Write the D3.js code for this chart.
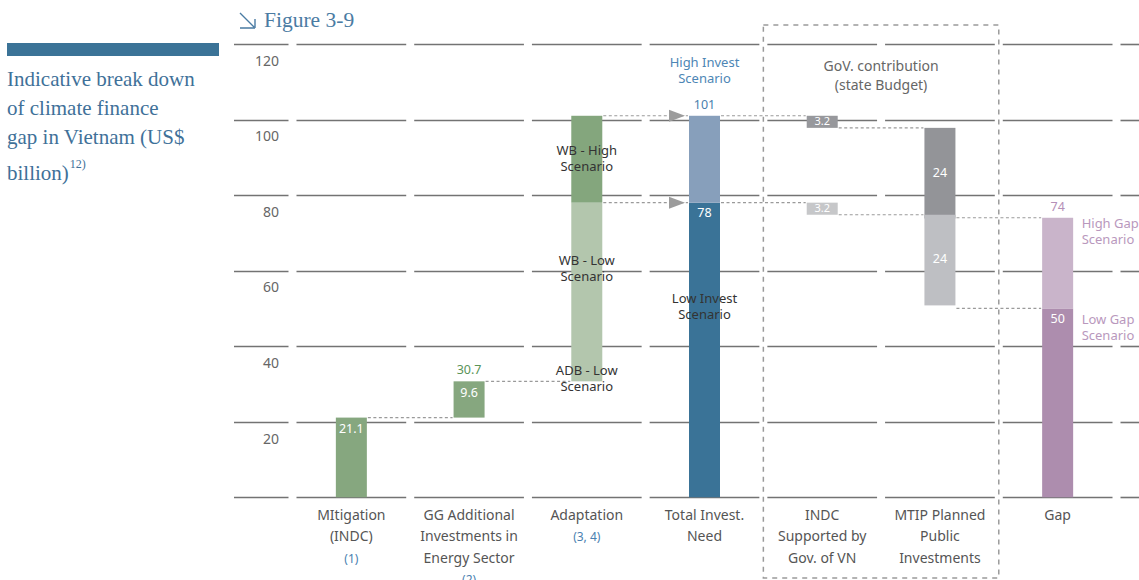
<!DOCTYPE html>
<html>
<head>
<meta charset="utf-8">
<script src="https://cdn.jsdelivr.net/npm/d3@7"></script>
<style>
  body { margin: 0; background: #fff; }
  svg { display: block; font-family: "Noto Sans", sans-serif; }
</style>
</head>
<body>
<svg id="chart" width="1139" height="580"></svg>
<script>
// ---- data (US$ billion) ----
const categories = ["Mitigation", "GG", "Adaptation", "Total", "INDC", "MTIP", "Gap"];
const categoryLines = [
  ["MItigation", "(INDC)"],
  ["GG Additional", "Investments in", "Energy Sector"],
  ["Adaptation"],
  ["Total Invest.", "Need"],
  ["INDC", "Supported by", "Gov. of VN"],
  ["MTIP Planned", "Public", "Investments"],
  ["Gap"]
];
const categoryNotes = ["(1)", "(2)", "(3, 4)", "", "", "", ""];

const yTicks = [20, 40, 60, 80, 100, 120];
const yGrid = [0, 20, 40, 60, 80, 100, 120];

// floating segments: category, start, end
const segCategory = ["Mitigation", "GG", "Adaptation", "Adaptation", "Total", "Total",
                     "INDC", "INDC", "MTIP", "MTIP", "Gap", "Gap"];
const segStart = [0, 21.1, 30.7, 78, 0, 78, 97.8, 74.8, 73.8, 50.8, 0, 50];
const segEnd   = [21.1, 30.7, 78, 101, 78, 101, 101, 78, 97.8, 74.8, 50, 74];

// dotted links between columns: level, from, to
const linkLevel = [21.1, 30.7, 101, 78, 101, 78, 97.8, 74.8, 74, 50];
const linkFrom  = ["Mitigation", "GG", "Adaptation", "Adaptation", "Total", "Total", "INDC", "INDC", "MTIP", "MTIP"];
const linkTo    = ["GG", "Adaptation", "Total", "Total", "INDC", "INDC", "MTIP", "MTIP", "Gap", "Gap"];

// ---- drawing ----
const svg = d3.select("#chart");
const fmt = d3.format(".1~f");

const segFill = ["#86a77f", "#86a77f", "#b3c6ad", "#84a67d", "#3a7397", "#879fbb",
                 "#97989c", "#c6c7c9", "#939498", "#bebfc3", "#ad8dae", "#c9b4ca"];

const x = d3.scaleBand().domain(categories).range([292.5, 1116.5])
  .paddingInner(0.068).paddingOuter(0.034);
const y = d3.scaleLinear().domain([0, 120]).range([497.3, 44]);
const bw = x.bandwidth();
const gap = x.step() - bw;
const barW = 31;
const barL = c => x(c) + bw / 2 - barW / 2;
const barR = c => x(c) + bw / 2 + barW / 2;
const cx = c => x(c) + bw / 2;

// left heading
svg.append("rect").attr("x", 7).attr("y", 43).attr("width", 212).attr("height", 13)
  .attr("fill", "#3b7397");
const heading = svg.append("text")
  .attr("font-family", "'Liberation Serif', serif").attr("font-size", 21)
  .attr("fill", "#3f7199");
["Indicative break down", "of climate finance", "gap in Vietnam (US$"].forEach((t, i) => {
  heading.append("tspan").attr("x", 7).attr("y", 86 + i * 29).text(t);
});
heading.append("tspan").attr("x", 7).attr("y", 180).text("billion)");
heading.append("tspan").attr("dx", 1).attr("dy", -12).attr("font-size", 12).text("12)");

// figure number
svg.append("path").attr("d", "M240,13 L254,27 M240,28 H255 M255,28 V19")
  .attr("fill", "none").attr("stroke", "#4a7ba3").attr("stroke-width", 1.4);
svg.append("text").attr("x", 264).attr("y", 27)
  .attr("font-family", "'Liberation Serif', serif").attr("font-size", 21.5)
  .attr("fill", "#4a7ba3").text("Figure 3-9");

// segmented grid lines
const gridG = svg.append("g").attr("stroke", "#737373").attr("stroke-width", 1.6);
yGrid.forEach(v => {
  const yy = Math.round(y(v)) + 0.5;
  gridG.append("line").attr("x1", 234).attr("x2", x(categories[0]) - gap).attr("y1", yy).attr("y2", yy);
  categories.forEach(c => {
    gridG.append("line").attr("x1", x(c)).attr("x2", x(c) + bw).attr("y1", yy).attr("y2", yy);
  });
  const last = categories[categories.length - 1];
  gridG.append("line").attr("x1", x(last) + bw + gap).attr("x2", 1139).attr("y1", yy).attr("y2", yy);
});

// tick labels (set just under each grid line)
svg.append("g").selectAll("text").data(yTicks).join("text")
  .attr("x", 279).attr("y", d => y(d) + 18)
  .attr("text-anchor", "end").attr("dominant-baseline", "middle")
  .attr("font-size", 14).attr("fill", "#666").text(d => d);

// dashed frame around government contribution columns
const boxL = x("Total") + bw + gap / 2;
const boxR = x("MTIP") + bw + gap / 2;
svg.append("rect").attr("x", boxL).attr("y", 25).attr("width", boxR - boxL).attr("height", 553)
  .attr("fill", "none").attr("stroke", "#9a9a9a").attr("stroke-width", 1.5)
  .attr("stroke-dasharray", "5,5");

// dotted links
svg.append("g").selectAll("line").data(linkLevel).join("line")
  .attr("x1", (d, i) => barR(linkFrom[i]) + 1)
  .attr("x2", (d, i) => barL(linkTo[i]) - 1)
  .attr("y1", d => y(d)).attr("y2", d => y(d))
  .attr("stroke", "#9a9a9a").attr("stroke-width", 1.2).attr("stroke-dasharray", "3,2.5");

// arrow heads into the total column
[101, 78].forEach(v => {
  const tip = barL("Total") - 4;
  const yy = y(v);
  svg.append("path")
    .attr("d", `M${tip - 16},${yy - 6} L${tip},${yy} L${tip - 16},${yy + 6} Z`)
    .attr("fill", "#9c9c9c");
});

// bars
svg.append("g").selectAll("rect").data(segCategory).join("rect")
  .attr("x", d => barL(d)).attr("width", barW)
  .attr("y", (d, i) => y(segEnd[i]))
  .attr("height", (d, i) => y(segStart[i]) - y(segEnd[i]))
  .attr("fill", (d, i) => segFill[i]);

// value labels
const segTop = i => y(segEnd[i]);
const segMid = i => (y(segEnd[i]) + y(segStart[i])) / 2;
const size = i => fmt(segEnd[i] - segStart[i]);
const valueLabels = [
  { i: 0, text: fmt(segEnd[0]), yy: segTop(0) + 12, fill: "#fff", fs: 12.5 },
  { i: 1, text: size(1), yy: segTop(1) + 12, fill: "#fff", fs: 12.5 },
  { i: 1, text: fmt(segEnd[1]), yy: segTop(1) - 11, fill: "#5a9458", fs: 12.5 },
  { i: 4, text: fmt(segEnd[4]), yy: segTop(4) + 11, fill: "#fff", fs: 12.5 },
  { i: 5, text: fmt(segEnd[5]), yy: segTop(5) - 10, fill: "#4a80ad", fs: 12.5 },
  { i: 6, text: size(6), yy: segMid(6), fill: "#fff", fs: 11 },
  { i: 7, text: size(7), yy: segMid(7), fill: "#fff", fs: 11 },
  { i: 8, text: size(8), yy: segMid(8), fill: "#fff", fs: 12.5 },
  { i: 9, text: size(9), yy: segMid(9), fill: "#fff", fs: 12.5 },
  { i: 10, text: fmt(segEnd[10]), yy: segTop(10) + 11, fill: "#fff", fs: 12.5 },
  { i: 11, text: fmt(segEnd[11]), yy: segTop(11) - 10, fill: "#b58fb8", fs: 12.5 }
];
svg.append("g").selectAll("text").data(valueLabels).join("text")
  .attr("x", d => cx(segCategory[d.i])).attr("y", d => d.yy)
  .attr("text-anchor", "middle").attr("dominant-baseline", "middle")
  .attr("font-size", d => d.fs).attr("fill", d => d.fill).text(d => d.text);

// scenario notes
const notes = [
  { lines: ["WB - High", "Scenario"], c: "Adaptation", v: 89.5, fill: "#333", anchor: "middle" },
  { lines: ["WB - Low", "Scenario"], c: "Adaptation", v: 60.3, fill: "#333", anchor: "middle" },
  { lines: ["ADB - Low", "Scenario"], c: "Adaptation", v: 31.2, fill: "#333", anchor: "middle" },
  { lines: ["Low Invest", "Scenario"], c: "Total", v: 50.2, fill: "#333", anchor: "middle" },
  { lines: ["High Invest", "Scenario"], c: "Total", v: 112.7, fill: "#4d86b5", anchor: "middle" },
  { lines: ["High Gap", "Scenario"], c: "Gap", v: 70.0, fill: "#b998bd", anchor: "start", dx: 24 },
  { lines: ["Low Gap", "Scenario"], c: "Gap", v: 44.6, fill: "#b998bd", anchor: "start", dx: 24 }
];
notes.forEach(n => {
  const t = svg.append("text").attr("text-anchor", n.anchor).attr("font-size", 13)
    .attr("fill", n.fill);
  const xx = n.anchor === "start" ? cx(n.c) + n.dx : cx(n.c);
  n.lines.forEach((l, k) => {
    t.append("tspan").attr("x", xx).attr("y", y(n.v) - 8 + k * 16)
      .attr("dominant-baseline", "middle").text(l);
  });
});

// frame caption
const cap = svg.append("text").attr("text-anchor", "middle").attr("font-size", 14).attr("fill", "#666");
["GoV. contribution", "(state Budget)"].forEach((l, k) => {
  cap.append("tspan").attr("x", (cx("INDC") + cx("MTIP")) / 2).attr("y", 67 + k * 19)
    .attr("dominant-baseline", "middle").text(l);
});

// category labels
categories.forEach((c, i) => {
  const g = svg.append("g");
  categoryLines[i].forEach((l, k) => {
    g.append("text").attr("x", cx(c)).attr("y", 516 + k * 21.7)
      .attr("text-anchor", "middle").attr("dominant-baseline", "middle")
      .attr("font-size", 14).attr("fill", "#555").text(l);
  });
  if (categoryNotes[i]) {
    g.append("text").attr("x", cx(c)).attr("y", 516 + categoryLines[i].length * 21.7)
      .attr("text-anchor", "middle").attr("dominant-baseline", "middle")
      .attr("font-size", 12).attr("fill", "#4a7fb0").text(categoryNotes[i]);
  }
});
</script>
</body>
</html>
